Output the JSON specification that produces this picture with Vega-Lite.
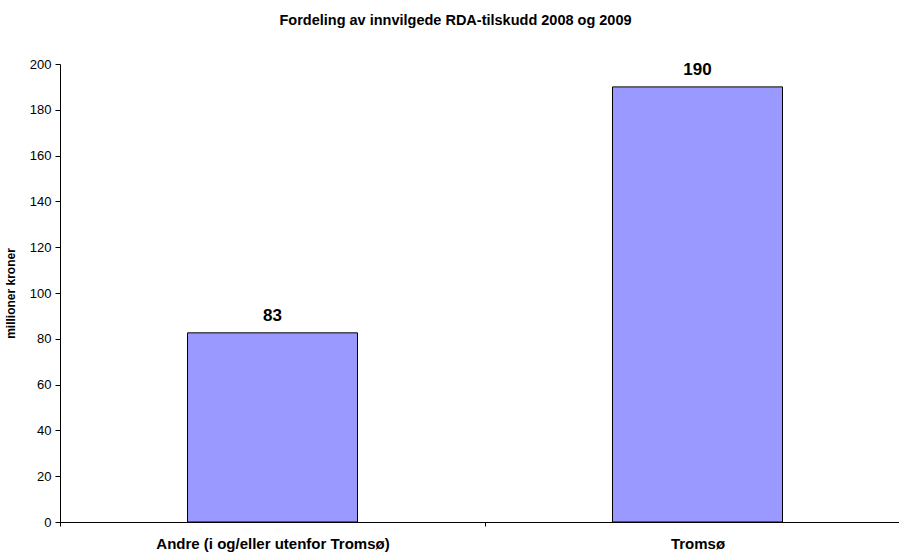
{
  "$schema": "https://vega.github.io/schema/vega-lite/v6.json",
  "autosize": {"type": "none"},
  "width": 839,
  "height": 458,
  "padding": {"left": 60, "top": 64, "right": 0, "bottom": 31},
  "background": "white",
  "title": {
    "text": "Fordeling av innvilgede RDA-tilskudd 2008 og 2009",
    "font": "Liberation Sans",
    "fontSize": 14.5,
    "fontWeight": "bold",
    "color": "black",
    "anchor": "middle",
    "frame": "group",
    "dx": -24,
    "offset": 30
  },
  "data": {
    "values": [
      {"kategori": "Andre (i og/eller utenfor Tromsø)", "verdi": 82.6},
      {"kategori": "Tromsø", "verdi": 190}
    ]
  },
  "config": {
    "view": {"stroke": null},
    "axis": {"grid": false, "domainColor": "black", "tickColor": "black", "labelFont": "Liberation Sans", "titleFont": "Liberation Sans", "labelColor": "black", "titleColor": "black", "domainWidth": 1, "tickWidth": 1}
  },
  "layer": [
    {
      "mark": {"type": "bar", "fill": "#9999FF", "stroke": "black", "strokeWidth": 1},
      "encoding": {
        "x": {
          "field": "kategori", "type": "nominal", "sort": null,
          "scale": {"range": [0, 850], "paddingInner": 0.6, "paddingOuter": 0.3},
          "axis": {"title": null, "labelAngle": 0, "labelFontSize": 15, "labelFontWeight": "bold", "labelPadding": 10, "labelLimit": 0, "tickOffset": -212.5, "labelOffset": 212.5, "tickSize": 4}
        },
        "y": {
          "field": "verdi", "type": "quantitative",
          "scale": {"domain": [0, 200], "nice": false},
          "axis": {"title": "millioner kroner", "titleFontSize": 12, "titleFontWeight": "bold", "titlePadding": 12, "values": [0, 20, 40, 60, 80, 100, 120, 140, 160, 180, 200], "labelFontSize": 13, "tickSize": 5, "labelPadding": 4}
        }
      }
    },
    {
      "mark": {"type": "text", "fontSize": 17, "fontWeight": "bold", "font": "Liberation Sans", "baseline": "bottom", "dy": -8, "color": "black"},
      "encoding": {
        "x": {"field": "kategori", "type": "nominal", "sort": null},
        "y": {"field": "verdi", "type": "quantitative"},
        "text": {"field": "verdi", "type": "quantitative", "format": ".0f"}
      }
    }
  ]
}
